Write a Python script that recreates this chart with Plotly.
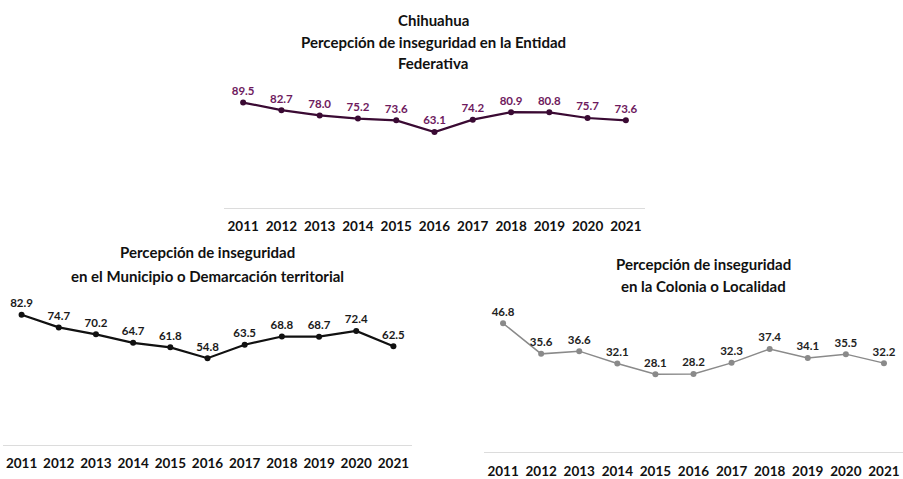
import plotly.graph_objects as go

years = ["2011", "2012", "2013", "2014", "2015", "2016", "2017", "2018", "2019", "2020", "2021"]
entidad = [89.5, 82.7, 78.0, 75.2, 73.6, 63.1, 74.2, 80.9, 80.8, 75.7, 73.6]
municipio = [82.9, 74.7, 70.2, 64.7, 61.8, 54.8, 63.5, 68.8, 68.7, 72.4, 62.5]
colonia = [46.8, 35.6, 36.6, 32.1, 28.1, 28.2, 32.3, 37.4, 34.1, 35.5, 32.2]

title_top = ["Chihuahua", "Percepción de inseguridad en la Entidad", "Federativa"]
title_left = ["Percepción de inseguridad", "en el Municipio o Demarcación territorial"]
title_right = ["Percepción de inseguridad", "en la Colonia o Localidad"]

FONT = "Lato"
W, H = 903, 479

fig = go.Figure()

def add_series(vals, xa, ya, line_color, text_color, lw):
    fig.add_trace(go.Scatter(
        x=years, y=vals, xaxis=xa, yaxis=ya,
        mode="lines+markers+text",
        line=dict(color=line_color, width=lw),
        marker=dict(color=line_color, size=6),
        text=[f"{v:.1f}" for v in vals],
        textposition="top center",
        textfont=dict(family=FONT, size=11.5, color=text_color, weight="bold"),
        showlegend=False, cliponaxis=False, hoverinfo="skip",
    ))

add_series(entidad, "x", "y", "#3a0a33", "#6e1a5e", 2.2)
add_series(municipio, "x2", "y2", "#111111", "#1a1a1a", 2.2)
add_series(colonia, "x3", "y3", "#8a8a8a", "#222222", 1.5)

def px_x(a, b):
    return [a / W, b / W]

def px_y(top, bottom):
    return [1 - bottom / H, 1 - top / H]

xcommon = dict(type="category", range=[-0.5, 10.5], showgrid=False, zeroline=False,
               showline=True, linecolor="#dcdcdc", linewidth=1, ticks="outside",
               ticklen=6, tickcolor="rgba(0,0,0,0)",
               tickfont=dict(family=FONT, size=13.5, color="#111111", weight="bold"),
               fixedrange=True)
ycommon = dict(visible=False, showgrid=False, zeroline=False, fixedrange=True)

title_font = dict(family=FONT, size=15, color="#111111", weight="bold")

annotations = []
def add_title(lines, cx, ys):
    for line, yy in zip(lines, ys):
        annotations.append(dict(text=line, x=cx / W, y=1 - yy / H, xref="paper", yref="paper",
                                xanchor="center", yanchor="middle", showarrow=False,
                                font=title_font))

add_title(title_top, 433, [20, 43, 64])
add_title(title_left, 207, [258, 282])
add_title(title_right, 703, [270, 293])

fig.update_layout(
    width=W, height=H,
    margin=dict(l=0, r=0, t=0, b=0),
    paper_bgcolor="white", plot_bgcolor="white",
    xaxis=dict(xcommon, domain=px_x(224, 645), anchor="y"),
    yaxis=dict(ycommon, domain=px_y(93, 213), range=[-5, 100], anchor="x"),
    xaxis2=dict(xcommon, domain=px_x(3, 412), anchor="y2"),
    yaxis2=dict(ycommon, domain=px_y(295, 455), range=[-1, 100], anchor="x2"),
    xaxis3=dict(xcommon, domain=px_x(484, 903), anchor="y3"),
    yaxis3=dict(ycommon, domain=px_y(308, 463), range=[-0.5, 55], anchor="x3"),
    annotations=annotations,
)

fig.write_html("out.html", config={"displayModeBar": False},
               post_script="document.body.style.margin='0';")
